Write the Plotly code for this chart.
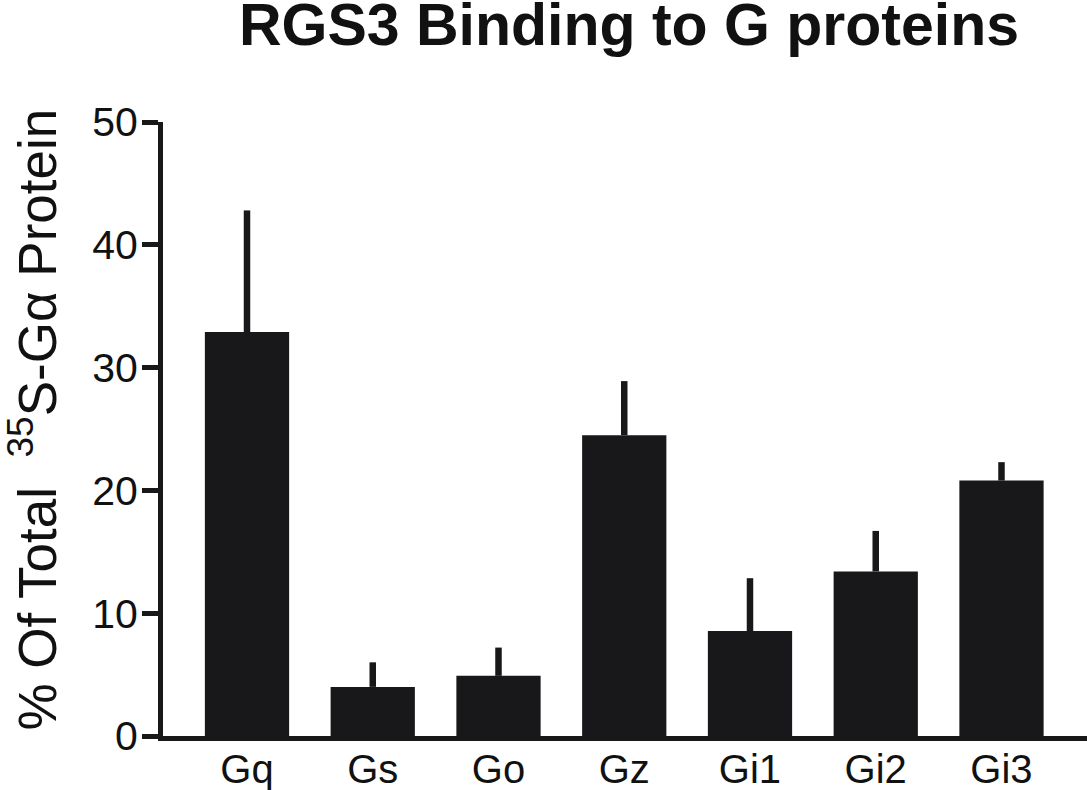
import plotly.graph_objects as go

categories = ["Gq", "Gs", "Go", "Gz", "Gi1", "Gi2", "Gi3"]
values = [32.9, 4.0, 4.9, 24.5, 8.55, 13.4, 20.8]
errors_up = [9.9, 2.0, 2.3, 4.4, 4.3, 3.3, 1.5]
y_ticks = [0, 10, 20, 30, 40, 50]

ink = "#18181a"
font_family = "Liberation Sans, Arial, sans-serif"

W, H = 1087, 790
L, T, B = 163, 122, 54
plot_w = W - L
plot_h = H - T - B

fig = go.Figure(
    go.Bar(
        x=categories,
        y=values,
        width=0.67,
        marker=dict(color=ink, line=dict(width=0)),
        error_y=dict(
            type="data",
            symmetric=False,
            array=errors_up,
            arrayminus=[0] * len(values),
            color=ink,
            thickness=6.5,
            width=0,
        ),
    )
)

fig.update_layout(
    width=W,
    height=H,
    autosize=False,
    margin=dict(l=L, r=0, t=T, b=B, pad=0),
    paper_bgcolor="white",
    plot_bgcolor="white",
    showlegend=False,
    font=dict(family=font_family, color="#111111"),
    title=dict(
        text="<b>RGS3 Binding to G proteins</b>",
        font=dict(size=59, family=font_family, color="#111111"),
        x=629 / W,
        xanchor="center",
        xref="container",
        y=1 - 24 / H,
        yanchor="middle",
        yref="container",
        automargin=False,
    ),
    xaxis=dict(
        type="category",
        range=[-0.668, 6.68],
        showline=True,
        linewidth=5,
        linecolor=ink,
        ticks="",
        showgrid=False,
        zeroline=False,
        automargin=False,
        tickfont=dict(size=40, family=font_family, color="#111111"),
        ticklabelstandoff=-6,
    ),
    yaxis=dict(
        range=[0, 50],
        tickvals=y_ticks,
        ticktext=[str(v) for v in y_ticks],
        showline=True,
        linewidth=5,
        linecolor=ink,
        ticks="outside",
        ticklen=16,
        tickwidth=5,
        tickcolor=ink,
        showgrid=False,
        zeroline=False,
        automargin=False,
        tickfont=dict(size=41, family=font_family, color="#111111"),
        ticklabelstandoff=-4,
    ),
    annotations=[
        dict(
            text="% Of Total  <sup>35</sup>S-Gα Protein",
            font=dict(size=53, family=font_family, color="#111111"),
            textangle=-90,
            xref="paper",
            yref="paper",
            x=(33 - L) / plot_w,
            y=(T + plot_h - 419.5) / plot_h,
            xanchor="center",
            yanchor="middle",
            showarrow=False,
        )
    ],
)

fig.write_html(
    "out.html",
    config={"displayModeBar": False},
    post_script="document.body.style.margin='0';",
)
